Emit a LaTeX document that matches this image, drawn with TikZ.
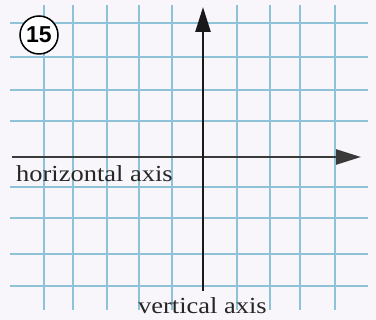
\documentclass[tikz,border=0pt]{standalone}
\usepackage{fontspec}
\setmainfont{Liberation Serif}
\newfontfamily\numfont{Liberation Sans}
\usetikzlibrary{arrows.meta}
\definecolor{bgc}{HTML}{F8F6FA}
\definecolor{gridc}{HTML}{8EC2D6}
\definecolor{axisc}{HTML}{3A3A3A}
\tikzset{
  gridline/.style={draw=gridc, line width=1.2pt},
  axisline/.style={draw=axisc, line width=2.4pt, -{Triangle[length=25pt,width=15pt]}},
  axislabel/.style={inner sep=0pt, anchor=base west, font=\fontsize{23}{25}\selectfont, text=black!85},
}
\begin{document}
\begin{tikzpicture}[x=1pt,y=-1pt]
\fill[bgc] (0,0) rectangle (376,320);
\useasboundingbox (0,0) rectangle (376,320);
% grid
\foreach \gx in {44,73,107,139,172,237,270,300,335}
  \draw[gridline] (\gx,5) -- (\gx,310);
\foreach \gy in {23,57,90,121,187,218,254,286}
  \draw[gridline] (10,\gy) -- (368,\gy);
% axes
\coordinate (hstart) at (12,157);
\coordinate (hend) at (361,157);
\coordinate (vstart) at (203,291);
\coordinate (vend) at (203,7);
\draw[axisline] (hstart) -- (hend);
\draw[axisline, draw=black!90, line width=2.6pt] (vstart) -- (vend);
% labels
\node[axislabel] (hlabel) at (16,182) {\scalebox{1.15}[1]{horizontal axis}};
\node[axislabel] (vlabel) at (138,314) {\scalebox{1.15}[1]{vertical axis}};
% badge
\node[circle, draw=black, line width=1.5pt, fill=white, minimum size=38pt, inner sep=0pt,
      font=\numfont\bfseries\fontsize{23}{24}\selectfont] (badge) at (39,35) {15};
\end{tikzpicture}
\end{document}
